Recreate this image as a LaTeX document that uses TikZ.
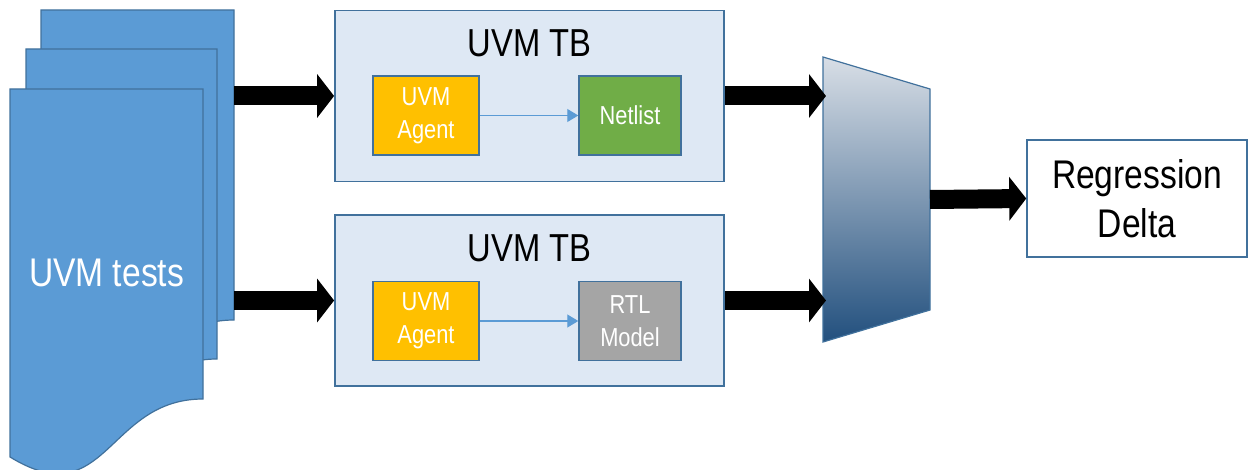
\documentclass[tikz,border=0pt]{standalone}
\usepackage{fontspec}
\setmainfont{Liberation Sans}
\usetikzlibrary{arrows.meta}

\definecolor{docblue}{HTML}{5B9BD5}
\definecolor{edgeblue}{HTML}{41719C}
\definecolor{tbfill}{HTML}{DEE8F4}
\definecolor{agentfill}{HTML}{FFC000}
\definecolor{netfill}{HTML}{70AD47}
\definecolor{rtlfill}{HTML}{A5A5A5}
\definecolor{muxtop}{HTML}{D8DEE6}
\definecolor{muxmid}{HTML}{A2ACBC}
\definecolor{muxbot}{HTML}{22507E}

% narrow the Arial-like text horizontally
\newcommand\sq[1]{\scalebox{0.84}[1]{#1}}

\tikzset{
  page/.style={fill=docblue, draw=edgeblue, line width=1.2pt},
  tbbox/.style={draw=edgeblue, fill=tbfill, line width=1.8pt,
    minimum width=389pt, minimum height=171pt, inner sep=0pt},
  blk/.style={draw=edgeblue, line width=1.5pt, minimum width=106pt,
    minimum height=79pt, inner sep=0pt, text=white, align=center,
    font=\fontsize{26}{33}\selectfont},
  bigarrow/.style={line width=19pt, black, -{Triangle[length=17pt,width=43pt]}},
  thinarrow/.style={draw=docblue, line width=1.2pt, -{Triangle[length=11pt,width=13pt]}},
}

\begin{document}
\begin{tikzpicture}[x=1pt,y=-1pt]
\useasboundingbox (0,0) rectangle (1248,470);

% stack of test documents (back to front)
\foreach \px/\py/\pw in {41/10/193, 26/49/191, 10/89/193}{
  \path[page] (\px,\py) -- ++(\pw,0) -- ++(0,310)
    .. controls +(-0.5*\pw,0) and (\px+0.5*\pw,\py+427) .. (\px,\py+368) -- cycle;
}
\node[text=white, font=\fontsize{40}{44}\selectfont] (tests) at (106.5,272.5) {\sq{UVM tests}};
\coordinate (src1) at (234,96);
\coordinate (src2) at (234,300.5);

% upper testbench
\node[tbbox] (tb1) at (529.5,96) {};
\node[font=\fontsize{39}{40}\selectfont] (tb1title) at (529.5,43) {\sq{UVM TB}};
\node[blk, fill=agentfill] (ag1) at (426,115.5) {\sq{UVM}\\\sq{Agent}};
\node[blk, fill=netfill, minimum width=102pt] (net) at (630,115.5) {\sq{Netlist}};
\draw[thinarrow] (ag1.east) -- (net.west);

% lower testbench
\node[tbbox] (tb2) at (529.5,300.5) {};
\node[font=\fontsize{39}{40}\selectfont] (tb2title) at (529.5,248) {\sq{UVM TB}};
\node[blk, fill=agentfill] (ag2) at (426,321) {\sq{UVM}\\\sq{Agent}};
\node[blk, fill=rtlfill, minimum width=102pt] (rtl) at (630,321) {\sq{RTL}\\\sq{Model}};
\draw[thinarrow] (ag2.east) -- (rtl.west);

% comparator
\path[draw=edgeblue, line width=1.2pt, top color=muxtop, middle color=muxmid, bottom color=muxbot]
  (823,57) -- (930,89) -- (930,310) -- (823,342) -- cycle;
\coordinate (muxin1) at (826,96);
\coordinate (muxin2) at (826,300.5);
\coordinate (muxout) at (930,199.5);

% result
\node[draw=edgeblue, line width=1.5pt, fill=white, minimum width=220pt, minimum height=117pt,
  align=center, font=\fontsize{40}{49}\selectfont] (delta) at (1137,198.5)
  {\sq{Regression}\\\sq{Delta}};

% block arrows
\draw[bigarrow] (src1) -- (tb1.west);
\draw[bigarrow] (src2) -- (tb2.west);
\draw[bigarrow] (tb1.east) -- (muxin1);
\draw[bigarrow] (tb2.east) -- (muxin2);
\draw[bigarrow] (muxout) -- (delta.west);
\end{tikzpicture}
\end{document}
